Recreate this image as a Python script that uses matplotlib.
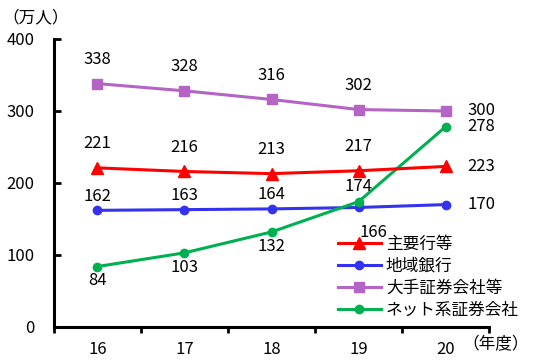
import matplotlib.pyplot as plt
import numpy as np

plt.rcParams['font.family'] = ['Noto Sans CJK JP', 'DejaVu Sans']

years = ['16', '17', '18', '19', '20']
shuyo = [221, 216, 213, 217, 223]
chiiki = [162, 163, 164, 166, 170]
ote = [338, 328, 316, 302, 300]
net = [84, 103, 132, 174, 278]

fig = plt.figure(figsize=(5.47, 3.61), dpi=100)
ax = fig.add_axes([0.0987, 0.0942, 0.7953, 0.7978])
x = np.arange(len(years))

ax.plot(x, shuyo, color='#ff0000', lw=2.2, marker='^', ms=9, label='主要行等', zorder=4)
ax.plot(x, chiiki, color='#3333ee', lw=2.2, marker='o', ms=6, label='地域銀行', zorder=3)
ax.plot(x, ote, color='#b464c4', lw=2.2, marker='s', ms=7, label='大手証券会社等', zorder=3)
ax.plot(x, net, color='#00b050', lw=2.2, marker='o', ms=6, label='ネット系証券会社', zorder=3)

fs = 12
for i in range(4):
    ax.text(x[i], shuyo[i] + 22, str(shuyo[i]), ha='center', va='bottom', fontsize=fs)
    ax.text(x[i], ote[i] + 22, str(ote[i]), ha='center', va='bottom', fontsize=fs)
for i in range(3):
    ax.text(x[i], chiiki[i] + 8, str(chiiki[i]), ha='center', va='bottom', fontsize=fs)
    ax.text(x[i], net[i] - 8, str(net[i]), ha='center', va='top', fontsize=fs)
# crowded points at 19
ax.text(x[3], net[3] + 10, str(net[3]), ha='center', va='bottom', fontsize=fs)
ax.text(x[3] + 0.17, chiiki[3] - 23, str(chiiki[3]), ha='center', va='top', fontsize=fs)
# right side labels at 20
for s in (shuyo, chiiki, ote, net):
    ax.text(x[4] + 0.25, s[4], str(s[4]), ha='left', va='center', fontsize=fs)

ax.set_xlim(-0.5, 4.5)
ax.set_ylim(0, 400)
ax.set_yticks([0, 100, 200, 300, 400])
ax.tick_params(axis='y', direction='in', length=5, width=2, labelsize=fs, pad=14)
ax.set_xticks(np.arange(-0.5, 5, 1))
ax.set_xticks(x, minor=True)
ax.set_xticklabels([])
ax.set_xticklabels(years, minor=True)
ax.tick_params(axis='x', which='major', direction='out', length=4, width=2)
ax.tick_params(axis='x', which='minor', length=0, labelsize=fs, pad=10)

for sp in ('top', 'right'):
    ax.spines[sp].set_visible(False)
for sp in ('left', 'bottom'):
    ax.spines[sp].set_linewidth(2.2)

fig.text(0.005, 0.975, '（万人）', ha='left', va='top', fontsize=fs)
fig.text(0.845, 0.045, '（年度）', ha='left', va='center', fontsize=fs)

ax.legend(loc='lower right', bbox_to_anchor=(1.084, 0.005), frameon=False, fontsize=fs,
          handlelength=2.6, labelspacing=0.3, handletextpad=0.3, borderaxespad=0)

fig.savefig('out.png', dpi=100)
